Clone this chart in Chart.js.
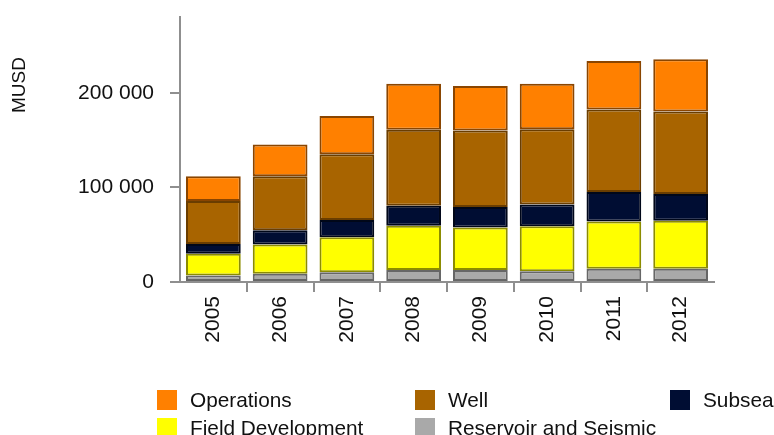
<!DOCTYPE html>
<html>
<head>
<meta charset="utf-8">
<script src="https://cdn.jsdelivr.net/npm/chart.js@4/dist/chart.umd.min.js"></script>
<style>
  html, body { margin: 0; padding: 0; background: #ffffff; }
  #wrap { width: 774px; height: 435px; position: relative; }
</style>
</head>
<body>
<div id="wrap"><canvas id="c" width="774" height="435"></canvas></div>
<script>
const categories = ['2005', '2006', '2007', '2008', '2009', '2010', '2011', '2012'];
const reservoirSeismic = [7000, 8800, 10200, 12700, 12700, 11300, 14100, 14100];
const fieldDevelopment = [22800, 30800, 37100, 46700, 44900, 47700, 49900, 50600];
const subsea = [10300, 15200, 18100, 21200, 21600, 23000, 31100, 28200];
const well = [45600, 56900, 69600, 80200, 80900, 79500, 87200, 87300];
const operations = [26100, 33500, 40300, 48700, 47000, 48000, 51300, 55100];
const yTicks = [0, 100000, 200000];

const FONT = '"Liberation Sans", Arial, sans-serif';

function fmt(v) {
  return String(v).replace(/\B(?=(\d{3})+(?!\d))/g, ' ');
}

const extras = {
  id: 'extras',
  afterDraw(chart) {
    const ctx = chart.ctx;
    ctx.save();
    ctx.fillStyle = '#111111';
    ctx.font = '19px ' + FONT;
    ctx.translate(20, 85);
    ctx.rotate(-Math.PI / 2);
    ctx.textAlign = 'center';
    ctx.textBaseline = 'middle';
    ctx.fillText('MUSD', 0, 0);
    ctx.restore();

    ctx.save();
    const items = chart.data.datasets.slice().reverse();
    const colX = [157, 415, 670];
    const rowY = [400, 428];
    ctx.font = '20.8px ' + FONT;
    ctx.textBaseline = 'middle';
    ctx.textAlign = 'left';
    items.forEach((ds, i) => {
      const x = colX[i % 3];
      const y = rowY[Math.floor(i / 3)];
      ctx.fillStyle = ds.backgroundColor;
      ctx.fillRect(x, y - 10, 20, 20);
      ctx.fillStyle = '#111111';
      ctx.fillText(ds.label, x + 33, y + 1);
    });
    ctx.restore();
  }
};

const ds = (label, data, bg, border) => ({
  label, data, backgroundColor: bg, borderColor: border, borderWidth: 2,
  borderSkipped: false, categoryPercentage: 1, barPercentage: 0.82
});

new Chart(document.getElementById('c'), {
  type: 'bar',
  data: {
    labels: categories,
    datasets: [
      ds('Reservoir and Seismic', reservoirSeismic, '#A9A9A9', '#666666'),
      ds('Field Development', fieldDevelopment, '#FFFF00', '#8C8C00'),
      ds('Subsea', subsea, '#000D33', '#000719'),
      ds('Well', well, '#A86400', '#6A3D00'),
      ds('Operations', operations, '#FF8000', '#8A4500')
    ]
  },
  options: {
    responsive: false,
    devicePixelRatio: 1,
    animation: false,
    layout: { padding: { top: 17, right: 60, left: 0, bottom: 53 } },
    plugins: { legend: { display: false }, tooltip: { enabled: false } },
    scales: {
      x: {
        stacked: true,
        afterFit(s) { s.height = 100; s.paddingLeft = 0; s.paddingRight = 0; },
        border: { display: true, color: '#8f8f8f', width: 2 },
        grid: {
          offset: true, drawOnChartArea: false, drawTicks: true, tickLength: 10, lineWidth: 2,
          color: (c) => (c.index === undefined || c.index === 0 || c.index >= categories.length) ? 'rgba(0,0,0,0)' : '#8f8f8f'
        },
        ticks: {
          color: '#111111', font: { family: FONT, size: 21 },
          maxRotation: 90, minRotation: 90, padding: 4, autoSkip: false
        }
      },
      y: {
        stacked: true,
        min: 0, max: 280000,
        afterFit(s) { s.width = 180; s.paddingTop = 0; s.paddingBottom = 0; },
        afterBuildTicks(s) { s.ticks = yTicks.map(v => ({ value: v })); },
        border: { display: true, color: '#8f8f8f', width: 2 },
        grid: { drawOnChartArea: false, drawTicks: true, tickLength: 10, lineWidth: 2, color: '#8f8f8f' },
        ticks: {
          color: '#111111', font: { family: FONT, size: 21 }, padding: 16,
          callback: (v) => fmt(v)
        },
        title: { display: false }
      }
    }
  },
  plugins: [extras]
});
</script>
</body>
</html>
